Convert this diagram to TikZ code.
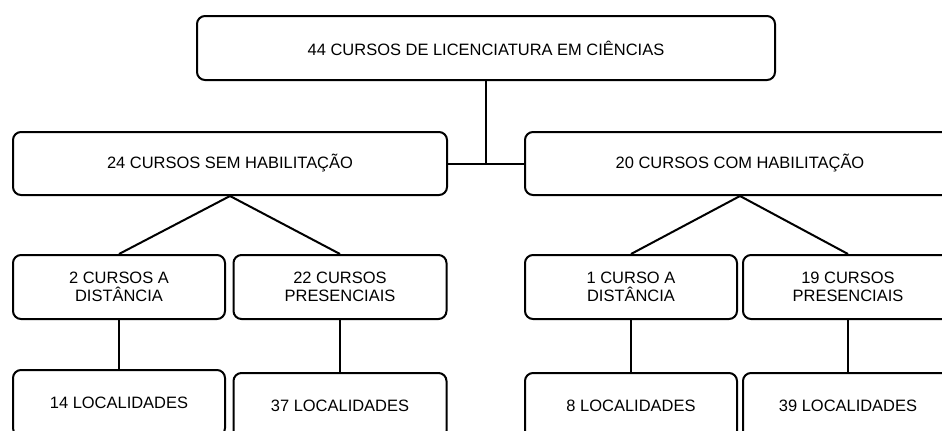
\documentclass[tikz,border=0pt]{standalone}
\usepackage{fontspec}
\setmainfont{Liberation Sans}
\usetikzlibrary{positioning}
\tikzset{caixa/.style={draw,line width=1.5pt,rounded corners=6pt,align=center,
    inner sep=0pt,font=\fontsize{12.35pt}{13.8pt}\selectfont},
  liga/.style={line width=1.5pt}}

\begin{document}
\begin{tikzpicture}[x=0.75pt,y=-0.75pt]
    \clip (0,0) rectangle (942,430);
    \node[caixa,minimum width=578*0.75pt,minimum height=64*0.75pt] (total) at (486,48) {44 CURSOS DE LICENCIATURA EM CIÊNCIAS};
    \node[caixa,minimum width=434*0.75pt,minimum height=63*0.75pt] (sem) at (230,163.5) {24 CURSOS SEM HABILITAÇÃO};
    \node[caixa,minimum width=430*0.75pt,minimum height=63*0.75pt] (com) at (740,163.5) {20 CURSOS COM HABILITAÇÃO};
    % modalidades
    \node[caixa,minimum width=212*0.75pt,minimum height=64*0.75pt] (semdist) at (119,287) {2 CURSOS A\\DISTÂNCIA};
    \node[caixa,minimum width=213*0.75pt,minimum height=64*0.75pt] (sempres) at (340,287) {22 CURSOS\\PRESENCIAIS};
    \node[caixa,minimum width=212*0.75pt,minimum height=64*0.75pt] (comdist) at (631,287) {1 CURSO A\\DISTÂNCIA};
    \node[caixa,minimum width=210*0.75pt,minimum height=64*0.75pt] (compres) at (848,287) {19 CURSOS\\PRESENCIAIS};
    % localidades
    \node[caixa,minimum width=212*0.75pt,minimum height=66*0.75pt] (semdistloc) at (119,403) {14 LOCALIDADES};
    \node[caixa,minimum width=213*0.75pt,minimum height=66*0.75pt] (sempresloc) at (340,406) {37 LOCALIDADES};
    \node[caixa,minimum width=212*0.75pt,minimum height=66*0.75pt] (comdistloc) at (631,406) {8 LOCALIDADES};
    \node[caixa,minimum width=210*0.75pt,minimum height=66*0.75pt] (compresloc) at (848,406) {39 LOCALIDADES};

    \draw[liga] (sem.east) -- (com.west);
    \draw[liga] (total.south) -- (total.south |- sem.east);
    \foreach \a/\b in {sem/semdist,sem/sempres,com/comdist,com/compres} {
        \draw[liga] (\a.south) -- (\b.north);
      }
    \foreach \a in {semdist,sempres,comdist,compres} {
        \draw[liga] (\a.south) -- (\a loc.north);
      }
  \end{tikzpicture}
\end{document}
